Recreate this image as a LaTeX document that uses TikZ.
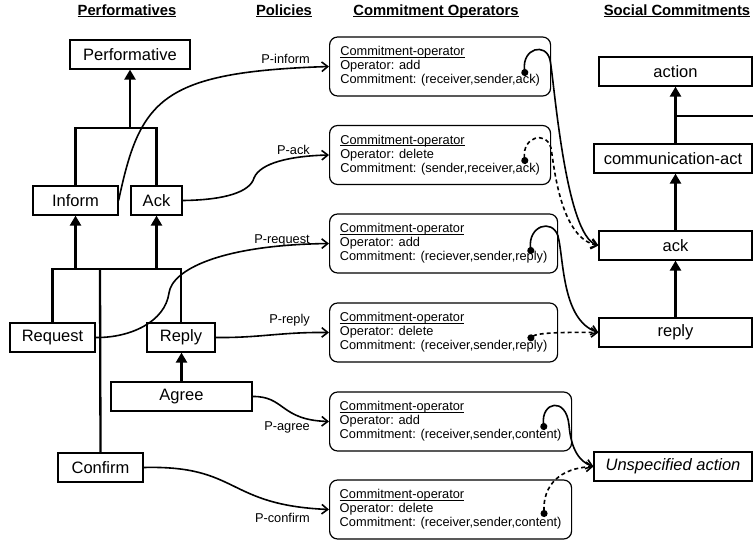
\documentclass[tikz,border=0pt]{standalone}
\usepackage{fontspec}
\setmainfont{Liberation Sans}
\usetikzlibrary{arrows.meta,calc}
\newsavebox\ulnbox
\newcommand\uln[1]{\sbox\ulnbox{#1}\rlap{\rule[-1.6pt]{\wd\ulnbox}{0.8pt}}\usebox\ulnbox}
\tikzset{
	cls/.style={draw, line width=1.2pt, minimum height=29pt, inner sep=2pt, font=\fontsize{16.5}{19}\selectfont},
	opbox/.style={draw, line width=1.2pt, rounded corners=8pt, align=left, minimum height=59pt, anchor=west, font=\fontsize{12.8}{14}\selectfont},
	header/.style={anchor=base, font=\fontsize{14.8}{17}\selectfont\bfseries},
	plabel/.style={anchor=base east, inner sep=0pt, font=\fontsize{12.8}{14}\selectfont},
	isa/.style={line width=2.3pt},
	inherit/.style={isa, -{Triangle[length=10pt,width=11pt]}},
	policy/.style={line width=1.6pt, -{Straight Barb[length=6pt,width=9.5pt]}},
	adds/.style={line width=1.6pt, {Circle[length=7pt]}-{Straight Barb[length=6pt,width=9.5pt]}},
	deletes/.style={adds, dash pattern=on 4pt off 3pt}
}

\begin{document}
\begin{tikzpicture}[x=1pt, y=-1pt]
	\useasboundingbox (0,0) rectangle (753,544);

	% headings
	\node[header] (hperf) at (127,15) {\uln{Performatives}};
	\node[header] (hpol) at (284,15) {\uln{Policies}};
	\node[header] (hops) at (436,15) {\uln{Commitment Operators}};
	\node[header] (hsoc) at (677,15) {\uln{Social Commitments}};

	% performatives
	\node[cls, minimum width=120pt] (perf) at (130,54.5) {Performative};
	\node[cls, minimum width=85pt] (inform) at (75.5,200.5) {Inform};
	\node[cls, minimum width=51pt] (ack) at (156.5,200.5) {Ack};
	\node[cls, minimum width=85pt] (request) at (52.5,337.5) {Request};
	\node[cls, minimum width=68pt] (reply) at (181,337.5) {Reply};
	\node[cls, minimum width=141pt] (agree) at (181.5,396.5) {Agree};
	\node[cls, minimum width=85pt] (confirm) at (100.5,467.5) {Confirm};

	\coordinate (j1) at (130,128);
	\coordinate (j2) at (100,269);
	\draw[isa] (inform.north) |- (j1) -| (ack.north);
	\draw[inherit] (j1) -- (perf.south);
	\draw[isa] (request.north) |- (j2) -| (reply.north);
	\draw[isa] (confirm.north) -- (j2);
	\draw[inherit] (inform.south |- j2) -- (inform.south);
	\draw[inherit] (ack.south |- j2) -- (ack.south);
	\draw[inherit] (agree.north) -- (agree.north |- reply.south);

	% commitment operators
	\node[opbox, minimum width=221pt] (op1) at (329,66.5) {\uln{Commitment-operator}\\Operator: add\\Commitment: (receiver,sender,ack)};
	\node[opbox, minimum width=221pt] (op2) at (329,155) {\uln{Commitment-operator}\\Operator: delete\\Commitment: (sender,receiver,ack)};
	\node[opbox, minimum width=228pt] (op3) at (329,243.5) {\uln{Commitment-operator}\\Operator: add\\Commitment: (reciever,sender,reply)};
	\node[opbox, minimum width=228pt] (op4) at (329,332.5) {\uln{Commitment-operator}\\Operator: delete\\Commitment: (receiver,sender,reply)};
	\node[opbox, minimum width=242pt] (op5) at (329,421.5) {\uln{Commitment-operator}\\Operator: add\\Commitment: (receiver,sender,content)};
	\node[opbox, minimum width=242pt] (op6) at (329,509.5) {\uln{Commitment-operator}\\Operator: delete\\Commitment: (receiver,sender,content)};

	% policies
	\draw[policy] (inform.east) .. controls (140,100) and (160,72) .. (op1.west);
	\draw[policy] (ack.east) .. controls (225,200) and (250,192) .. (254,178) .. controls (260,163) and (290,156) .. (op2.west);
	\draw[policy] (request.east) .. controls (130,338) and (165,322) .. (169,293) .. controls (172,270) and (220,245) .. (op3.west);
	\draw[policy] (reply.east) .. controls (260,338) and (280,332) .. (op4.west);
	\draw[policy] (agree.east) .. controls (285,396) and (280,420) .. (op5.west);
	\draw[policy] (confirm.east) .. controls (240,465) and (225,505) .. (op6.west);
	\node[plabel] (linform) at ([xshift=-19pt,yshift=3.5pt]op1.west) {P-inform};
	\node[plabel] (lack) at ([xshift=-19pt,yshift=1pt]op2.west) {P-ack};
	\node[plabel] (lrequest) at ([xshift=-19pt,yshift=0pt]op3.west) {P-request};
	\node[plabel] (lreply) at ([xshift=-19pt,yshift=9.5pt]op4.west) {P-reply};
	\node[plabel] (lagree) at ([xshift=-19pt,yshift=-9pt]op5.west) {P-agree};
	\node[plabel] (lconfirm) at ([xshift=-19pt,yshift=-12.5pt]op6.west) {P-confirm};

	% social commitments
	\node[cls, minimum width=153pt] (action) at (675.5,71.5) {action};
	\node[cls, minimum width=158pt] (commact) at (673,158.5) {communication-act};
	\node[cls, minimum width=153pt] (sack) at (675.5,245.5) {ack};
	\node[cls, minimum width=153pt] (sreply) at (675.5,332.5) {reply};
	\node[cls, minimum width=158pt] (unspec) at (673,466.5) {\textit{Unspecified action}};

	\draw[inherit] (sreply.north) -- (sack.south);
	\draw[inherit] (sack.north) -- (sack.north |- commact.south);
	\draw[inherit] (action.south |- commact.north) -- (action.south);
	\coordinate (j3) at (675.5,116);
	\coordinate (offright) at (753,116);
	\coordinate (offright2) at (753,466.5);
	\draw[isa] (j3) -- (offright);
	\draw[line width=1.4pt] (unspec.east) -- (offright2);

	% effects of the operators
	\coordinate (d1) at ([shift={(-26pt,-9.5pt)}]op1.east);
	\coordinate (d2) at ([shift={(-26pt,-9pt)}]op2.east);
	\coordinate (d3) at ([shift={(-27pt,-10.5pt)}]op3.east);
	\coordinate (d4) at ([shift={(-30pt,-7.5pt)}]op4.east);
	\coordinate (d5) at ([shift={(-28pt,-8.5pt)}]op5.east);
	\coordinate (d6) at ([shift={(-28pt,-7.5pt)}]op6.east);
	\draw[adds] (d1) .. controls (522,48) and (546,42) .. (550,60) .. controls (554,78) and (565,235) .. (sack.west);
	\draw[deletes] (d2) .. controls (522,137) and (546,130) .. (551,148) .. controls (554,165) and (560,238) .. (sack.west);
	\draw[adds] (d3) .. controls (528,226) and (552,218) .. (558,236) .. controls (564,260) and (562,320) .. (sreply.west);
	\draw[deletes] (d4) .. controls (537,333) and (560,332) .. (sreply.west);
	\draw[adds] (d5) .. controls (541,402) and (566,396) .. (569,425) .. controls (571,450) and (580,462) .. (unspec.west);
	\draw[deletes] (d6) .. controls (543,485) and (560,468) .. (unspec.west);
\end{tikzpicture}
\end{document}
